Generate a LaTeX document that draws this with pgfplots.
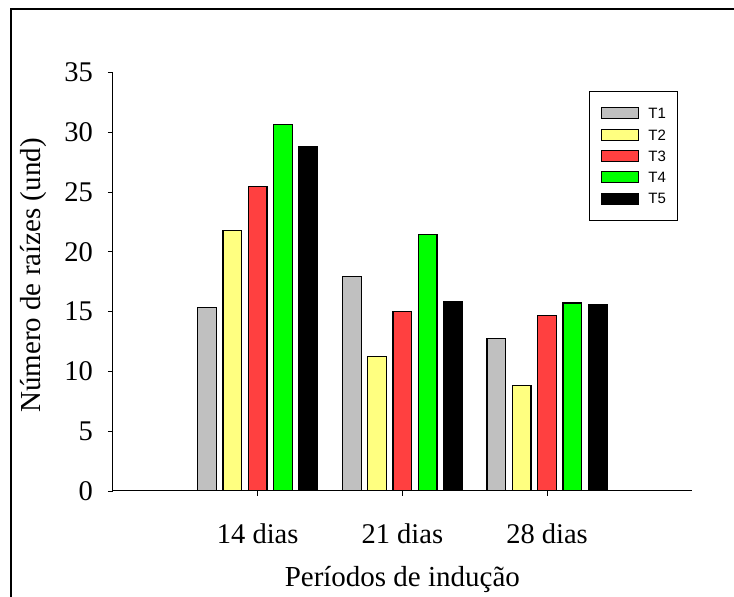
\documentclass[border=0pt]{standalone}
\usepackage{fontspec}
\setmainfont{Liberation Serif}
\newfontfamily\arialf{Liberation Sans}
\usepackage{pgfplots}
\pgfplotsset{compat=1.18}
\definecolor{cT1}{HTML}{C0C0C0}
\definecolor{cT2}{HTML}{FFFF80}
\definecolor{cT3}{HTML}{FF4040}
\definecolor{cT4}{HTML}{00FF00}
\definecolor{cT5}{HTML}{000000}
\begin{document}
\begin{tikzpicture}
\useasboundingbox (0,0) rectangle (734pt,597pt);
\draw[line width=2pt] (10.5pt,-3pt) -- (10.5pt,588pt) -- (737pt,588pt);
\begin{axis}[
  at={(113pt,106pt)}, anchor=south west,
  scale only axis, width=578.7pt, height=418.5pt,
  xmin=-1, xmax=3, ymin=0, ymax=35,
  axis lines*=left,
  axis line style={line width=1pt},
  xtick={0,1,2}, xticklabels={14 dias,21 dias,28 dias},
  ytick={0,5,...,35},
  tick align=outside, major tick length=5pt,
  tick style={black, line width=0.8pt},
  tick label style={font=\fontsize{28.5}{28.5}\selectfont},
  /pgf/number format/assume math mode=true,
  yticklabel style={anchor=east, inner sep=0pt, xshift=-15pt},
  xticklabel style={anchor=base, inner sep=0pt, yshift=-47pt},
  ylabel={Número de raízes (und)},
  ylabel style={at={(axis description cs:-0.138,0.515)}, anchor=center, font=\fontsize{29}{29}\selectfont},
  xlabel={Períodos de indução},
  xlabel style={at={(axis description cs:0.5,-0.228)}, anchor=base, font=\fontsize{29}{29}\selectfont},
  ybar=6.6pt, bar width=18.7pt,
  legend style={at={(axis description cs:0.8225,0.9558)}, anchor=north west,
    draw=black, line width=0.8pt,
    inner xsep=12pt, inner ysep=16pt, row sep=9.3pt, column sep=9pt,
    nodes={inner sep=0pt, text height=10.7pt, text depth=0pt, font=\arialf\fontsize{15}{15}\selectfont}},
  legend cell align=left,
  legend image code/.code={\draw[#1, line width=1pt] (0pt,-5.5pt) rectangle (37pt,5.5pt);},
]
\addplot[fill=cT1, draw=black, line width=1.2pt] coordinates {(0,15.35) (1,17.92) (2,12.76)};
\addplot[fill=cT2, draw=black, line width=1.2pt] coordinates {(0,21.77) (1,11.28) (2,8.85)};
\addplot[fill=cT3, draw=black, line width=1.2pt] coordinates {(0,25.49) (1,14.99) (2,14.68)};
\addplot[fill=cT4, draw=black, line width=1.2pt] coordinates {(0,30.68) (1,21.47) (2,15.72)};
\addplot[fill=cT5, draw=black, line width=1.2pt] coordinates {(0,28.81) (1,15.80) (2,15.61)};
\legend{T1,T2,T3,T4,T5}
\end{axis}
\end{tikzpicture}
\end{document}
